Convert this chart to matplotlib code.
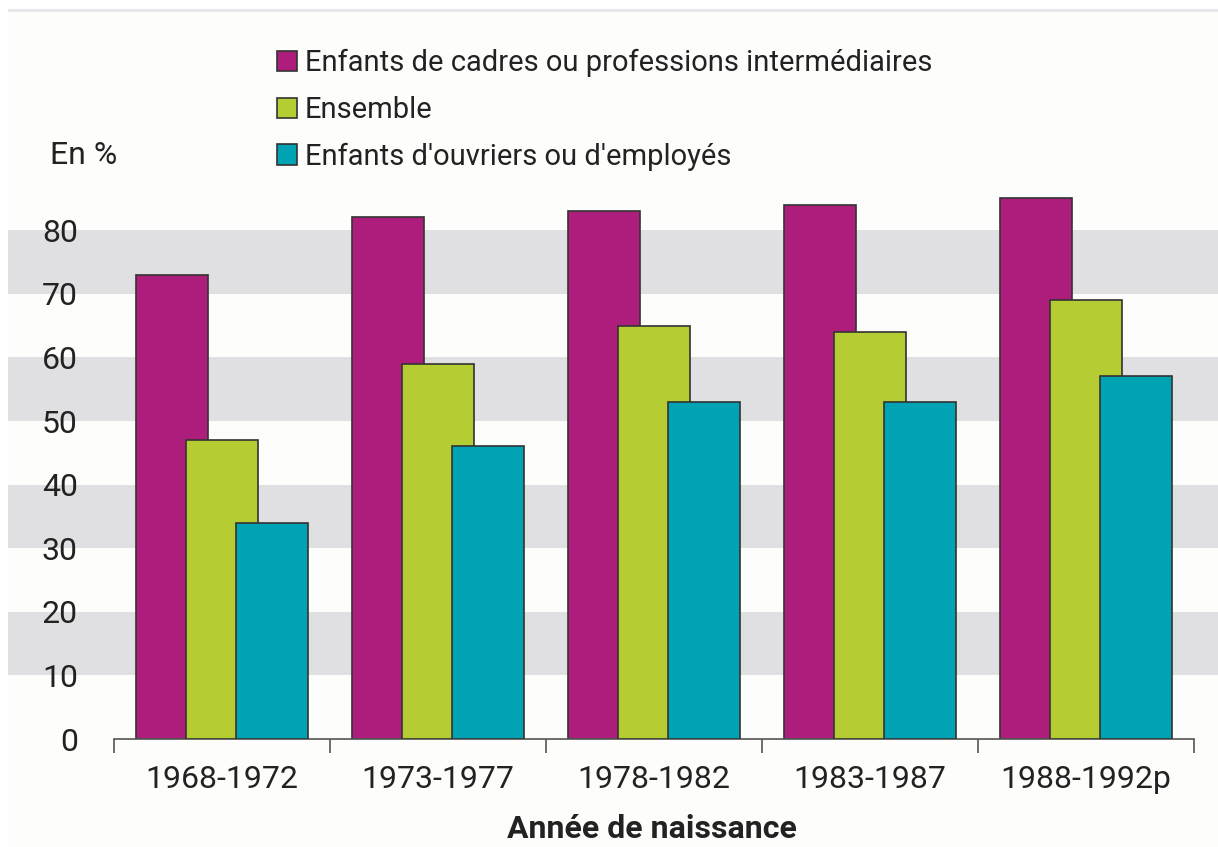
import matplotlib.pyplot as plt
import matplotlib.transforms as mtransforms
from matplotlib.patches import Rectangle, Patch
import numpy as np

# Data
categories = ["1968-1972", "1973-1977", "1978-1982", "1983-1987", "1988-1992p"]
series_names = ["Enfants de cadres ou professions intermédiaires",
                "Ensemble",
                "Enfants d'ouvriers ou d'employés"]
cadres = [73, 82, 83, 84, 85]
ensemble = [47, 59, 65, 64, 69]
ouvriers = [34, 46, 53, 53, 57]
y_ticks = [0, 10, 20, 30, 40, 50, 60, 70, 80]

colors = ["#AD1D7B", "#B5CD32", "#00A3B3"]
plt.rcParams["font.family"] = ["Roboto", "DejaVu Sans"]

W, H = 1218, 847
fig = plt.figure(figsize=(W / 100, H / 100), dpi=100, facecolor="white")

# background panel and thin top line
fig.patches.append(Rectangle((8 / W, 0), 1 - 8 / W, (H - 12) / H, transform=fig.transFigure,
                             facecolor="#FDFDFB", edgecolor="none", zorder=-10))
fig.patches.append(Rectangle((8 / W, (H - 12) / H), 1 - 8 / W, 3 / H, transform=fig.transFigure,
                             facecolor="#E8E8EC", edgecolor="none", zorder=-10))

ax = fig.add_axes([114 / W, (H - 739) / H, (1194 - 114) / W, (739 - 166.6) / H])
ax.patch.set_alpha(0)

# gray bands across the full width
trans = mtransforms.blended_transform_factory(fig.transFigure, ax.transData)
for lo in [10, 30, 50, 70]:
    ax.add_patch(Rectangle((8 / W, lo), 1 - 8 / W, 10, transform=trans, facecolor="#E0E0E2",
                           edgecolor="none", clip_on=False, zorder=0))

x = np.arange(len(categories))
bw = 0.333
step = 0.23
for i, (vals, c) in enumerate(zip([cadres, ensemble, ouvriers], colors)):
    ax.bar(x + (i - 1) * step, vals, width=bw, color=c, edgecolor="#333333",
           linewidth=1.2, zorder=2 + i)

ax.set_xlim(-0.5, len(categories) - 0.5)
ax.set_ylim(0, 90)

for s in ["top", "right", "left"]:
    ax.spines[s].set_visible(False)
ax.spines["bottom"].set_color("#555555")
ax.spines["bottom"].set_linewidth(1.2)

ax.set_yticks(y_ticks)
ax.set_yticklabels([str(v) for v in y_ticks], fontsize=23, color="#222222")
ax.tick_params(axis="y", length=0, pad=26)

ax.set_xticks(x)
ax.set_xticklabels(categories, fontsize=23, color="#222222")
ax.tick_params(axis="x", which="major", length=0, pad=19)
ax.set_xticks(np.arange(-0.5, len(categories)), minor=True)
ax.tick_params(axis="x", which="minor", length=10, width=1.2, color="#555555", direction="out")

fig.text(50 / W, (H - 155) / H, "En %", fontsize=23, color="#222222", va="center", ha="left")
fig.text(652 / W, (H - 829) / H, "Année de naissance", fontsize=23, fontweight="bold",
         color="#222222", va="center", ha="center")

handles = [Patch(facecolor=c, edgecolor="#333333", linewidth=1.2) for c in colors]
fig.legend(handles, series_names, loc="upper left", bbox_to_anchor=(277 / W, (H - 49) / H),
           frameon=False, fontsize=21, handlelength=0.68, handleheight=0.68, handletextpad=0.27,
           labelspacing=0.64, borderpad=0, borderaxespad=0, labelcolor="#222222")

fig.savefig("out.png", dpi=100, facecolor=fig.get_facecolor())
